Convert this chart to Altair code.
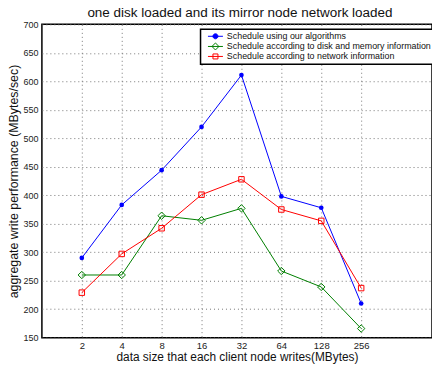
import altair as alt
import pandas as pd

sizes = ["2", "4", "8", "16", "32", "64", "128", "256"]
ours = [290, 383, 444, 520, 611, 398, 378, 210]
diskmem = [260, 260, 364, 356, 377, 267, 239, 166]
network = [229, 297, 342, 401, 428, 375, 355, 237]

names = [
    "Schedule using our algorithms",
    "Schedule according to disk and memory information",
    "Schedule according to network information",
]
colors = ["#0000ff", "#008000", "#ff0000"]

rows = []
for name, vals in zip(names, [ours, diskmem, network]):
    for i, (s, v) in enumerate(zip(sizes, vals)):
        rows.append({"series": name, "pos": i + 1, "size": s, "value": v})
df = pd.DataFrame(rows)

FONT = "Liberation Sans"
label_expr = "[''," + ",".join("'%s'" % s for s in sizes) + "][datum.value]"

xenc = alt.X(
    "pos:Q",
    scale=alt.Scale(domain=[0, 9.775], nice=False, zero=False),
    axis=alt.Axis(
        values=list(range(1, 9)),
        labelExpr=label_expr,
        title="data size that each client node writes(MBytes)",
        grid=True,
        gridDash=[1, 3],
        gridColor="#777777",
        ticks=False,
        domain=False,
        labelFontSize=9.5,
        labelPadding=3,
        titleFontSize=11.9,
        titleFontWeight="normal",
        titlePadding=1,
        labelColor="#222222",
        titleColor="#111111",
    ),
)
yenc = alt.Y(
    "value:Q",
    scale=alt.Scale(domain=[150, 700], nice=False, zero=False),
    axis=alt.Axis(
        values=list(range(150, 701, 50)),
        title="aggregate write performance (MBytes/sec)",
        grid=True,
        gridDash=[1, 3],
        gridColor="#777777",
        ticks=False,
        domain=False,
        labelFontSize=9,
        labelPadding=4,
        titleFontSize=12.4,
        titleFontWeight="normal",
        titlePadding=2,
        labelColor="#222222",
        titleColor="#111111",
    ),
)

base = alt.Chart(df)

layers = []
for name, col in zip(names, colors):
    layers.append(
        base.transform_filter(alt.datum.series == name)
        .mark_line(strokeWidth=1, color=col)
        .encode(x=xenc, y=yenc)
    )

layers.append(
    base.transform_filter(alt.datum.series == names[0]).mark_point(
        shape="circle", filled=True, size=22, opacity=1, color=colors[0]
    ).encode(x=xenc, y=yenc)
)
layers.append(
    base.transform_filter(alt.datum.series == names[1]).mark_point(
        shape="diamond", filled=False, size=55, strokeWidth=1, opacity=1, color=colors[1]
    ).encode(x=xenc, y=yenc)
)
layers.append(
    base.transform_filter(alt.datum.series == names[2]).mark_point(
        shape="square", filled=False, size=30, strokeWidth=1, opacity=1, color=colors[2]
    ).encode(x=xenc, y=yenc)
)

paths = [
    "M-3,0H3M1,0A1,1,0,1,1,-1,0A1,1,0,1,1,1,0Z",
    "M-3,0H3M0,-1.4L1.4,0L0,1.4L-1.4,0Z",
    "M-3,0H3M-1,-1H1V1H-1Z",
]
leg = alt.Legend(
    title=None,
    orient="none",
    legendX=159,
    legendY=5,
    fillColor="white",
    strokeColor="black",
    padding=2.5,
    labelFont=FONT,
    labelFontSize=8.9,
    labelColor="#111111",
    labelOffset=7,
    symbolOffset=8,
    symbolSize=25,
    symbolStrokeWidth=1,
    rowPadding=-1.8,
    labelLimit=400,
)
legend_layer = base.transform_filter("false").mark_point(opacity=1, strokeWidth=1).encode(
    x=xenc,
    y=yenc,
    color=alt.Color("series:N", scale=alt.Scale(domain=names, range=colors), legend=leg),
    shape=alt.Shape("series:N", scale=alt.Scale(domain=names, range=paths), legend=leg),
    fill=alt.Fill("series:N", scale=alt.Scale(domain=names, range=["#0000ff", "transparent", "transparent"]), legend=leg),
)
layers.append(legend_layer)

chart = (
    alt.layer(*layers)
    .properties(
        width=391,
        height=314,
        title=alt.Title(
            "one disk loaded and its mirror node network loaded",
            fontSize=13.5,
            fontWeight="normal",
            font=FONT,
            color="#111111",
            dx=3,
            offset=1,
        ),
        autosize=alt.AutoSizeParams(type="none"),
        padding={"left": 42, "top": 24, "right": 0, "bottom": 30},
    )
    .configure(font=FONT, background="white")
    .configure_view(stroke="black", strokeWidth=1.5)
    .configure_legend(strokeWidth=1.5, cornerRadius=0)
)

chart.save("out.html", embed_options={"renderer": "svg", "actions": False})
